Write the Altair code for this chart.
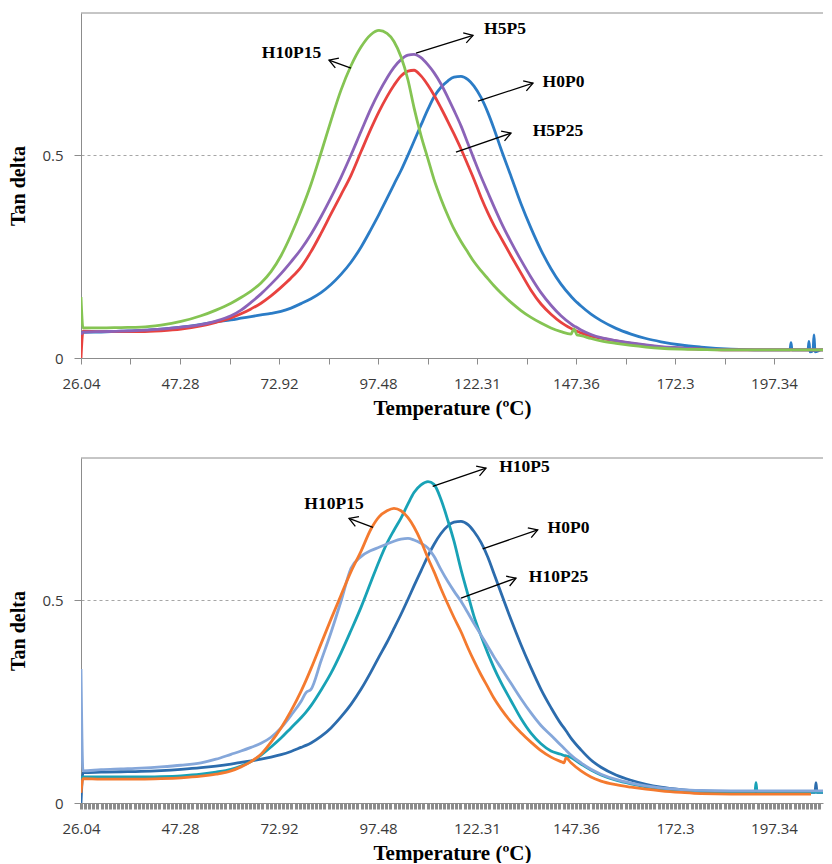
import json
import math
import altair as alt
import pandas as pd

# ---------------- axis categories ----------------
TICK_LABELS = [26.04, 47.28, 72.92, 97.48, 122.31, 147.36, 172.3, 197.34]
Y_MAX = 0.85
Y_TICKS = [0, 0.5]

# ---------------- top panel (temperature samples, then Tan delta per series) ----------------
TOP_TEMPS = [26.04, 26.47, 30.33, 34.62, 38.91, 43.20, 47.54, 52.72, 56.60, 60.49,
             63.08, 65.67, 68.26, 70.85, 73.42, 75.90, 78.38, 80.86, 83.34, 85.82,
             88.30, 90.78, 93.26, 95.74, 97.73, 99.74, 101.49, 103.25, 105.00, 106.51,
             108.27, 110.02, 111.52, 113.28, 115.04, 116.54, 118.30, 120.05, 121.56, 123.32,
             125.09, 126.61, 128.38, 130.91, 133.44, 135.97, 138.50, 141.03, 143.56, 146.09,
             146.85, 147.61, 148.62, 151.14, 153.66, 157.44, 161.22, 164.99, 168.77, 173.82,
             178.88, 186.46, 194.05, 201.39, 201.64, 201.89, 205.94, 206.19, 206.44, 207.20,
             207.46, 207.71, 209.23, 212.26]

TOP_H0P0 = [0.062, 0.063, 0.064, 0.066, 0.068, 0.071, 0.076, 0.083, 0.089, 0.094,
            0.098, 0.102, 0.106, 0.110, 0.115, 0.123, 0.134, 0.146, 0.161, 0.181,
            0.206, 0.236, 0.273, 0.317, 0.354, 0.393, 0.428, 0.462, 0.500, 0.534,
            0.574, 0.613, 0.643, 0.667, 0.683, 0.692, 0.694, 0.686, 0.670, 0.642,
            0.604, 0.565, 0.515, 0.448, 0.380, 0.320, 0.266, 0.220, 0.182, 0.152,
            0.144, 0.137, 0.128, 0.108, 0.092, 0.073, 0.059, 0.048, 0.040, 0.032,
            0.027, 0.022, 0.020, 0.020, 0.038, 0.020, 0.020, 0.041, 0.015, 0.018,
            0.057, 0.015, 0.020, 0.020]

TOP_H5P25 = [0.0, 0.066, 0.065, 0.065, 0.065, 0.067, 0.071, 0.079, 0.088, 0.099,
             0.109, 0.121, 0.135, 0.153, 0.174, 0.197, 0.224, 0.262, 0.307, 0.355,
             0.402, 0.450, 0.508, 0.565, 0.607, 0.644, 0.672, 0.695, 0.707, 0.709,
             0.695, 0.672, 0.648, 0.616, 0.582, 0.552, 0.515, 0.475, 0.440, 0.396,
             0.357, 0.327, 0.296, 0.252, 0.209, 0.167, 0.133, 0.108, 0.088, 0.073,
             0.069, 0.066, 0.062, 0.054, 0.049, 0.042, 0.036, 0.031, 0.027, 0.024,
             0.022, 0.020, 0.020, 0.020, 0.020, 0.020, 0.020, 0.020, 0.020, 0.020,
             0.020, 0.020, 0.020, 0.020]

TOP_H5P5 = [0.058, 0.064, 0.065, 0.066, 0.068, 0.071, 0.076, 0.082, 0.091, 0.104,
            0.118, 0.137, 0.158, 0.182, 0.208, 0.237, 0.268, 0.305, 0.348, 0.395,
            0.445, 0.500, 0.558, 0.615, 0.655, 0.690, 0.716, 0.735, 0.746, 0.748,
            0.740, 0.722, 0.703, 0.675, 0.641, 0.610, 0.572, 0.528, 0.490, 0.447,
            0.407, 0.373, 0.335, 0.286, 0.241, 0.199, 0.161, 0.130, 0.104, 0.084,
            0.079, 0.075, 0.069, 0.058, 0.050, 0.043, 0.037, 0.032, 0.028, 0.025,
            0.022, 0.020, 0.020, 0.020, 0.020, 0.020, 0.020, 0.020, 0.020, 0.020,
            0.020, 0.020, 0.020, 0.020]

TOP_H10P15 = [0.15, 0.074, 0.074, 0.075, 0.076, 0.081, 0.090, 0.104, 0.118, 0.135,
              0.149, 0.165, 0.185, 0.213, 0.252, 0.303, 0.362, 0.428, 0.505, 0.585,
              0.660, 0.720, 0.766, 0.797, 0.807, 0.800, 0.780, 0.742, 0.685, 0.617,
              0.548, 0.490, 0.440, 0.392, 0.350, 0.318, 0.287, 0.260, 0.237, 0.215,
              0.195, 0.178, 0.160, 0.137, 0.117, 0.100, 0.086, 0.074, 0.065, 0.059,
              0.072, 0.057, 0.055, 0.048, 0.042, 0.036, 0.031, 0.027, 0.024, 0.022,
              0.021, 0.020, 0.020, 0.020, 0.020, 0.020, 0.020, 0.020, 0.020, 0.020,
              0.020, 0.020, 0.020, 0.020]

# ---------------- bottom panel ----------------
BOT_TEMPS = [26.04, 26.47, 30.33, 34.62, 38.91, 43.20, 47.54, 52.72, 56.60, 60.49,
             63.08, 65.67, 68.26, 70.85, 73.42, 75.90, 78.38, 79.62, 80.86, 83.34,
             85.82, 88.30, 90.78, 93.26, 95.74, 97.73, 99.74, 101.49, 103.25, 105.00,
             106.51, 108.27, 110.02, 111.52, 113.28, 115.04, 116.54, 118.30, 120.05, 121.56,
             123.32, 125.09, 126.61, 128.38, 130.91, 133.44, 135.97, 138.50, 141.03, 143.56,
             144.32, 144.83, 146.09, 148.62, 151.14, 153.66, 157.44, 161.22, 164.99, 168.77,
             173.82, 178.88, 186.46, 192.54, 192.79, 193.04, 199.11, 206.70, 207.71, 207.96,
             208.21, 209.23, 212.26]

BOT_H0P0 = [0.0, 0.075, 0.076, 0.077, 0.078, 0.080, 0.083, 0.087, 0.091, 0.096,
            0.100, 0.104, 0.108, 0.113, 0.119, 0.127, 0.137, 0.142, 0.148, 0.164,
            0.185, 0.212, 0.243, 0.280, 0.323, 0.360, 0.396, 0.430, 0.465, 0.502,
            0.535, 0.572, 0.609, 0.637, 0.664, 0.683, 0.692, 0.694, 0.686, 0.669,
            0.642, 0.605, 0.565, 0.518, 0.452, 0.390, 0.333, 0.280, 0.235, 0.195,
            0.185, 0.178, 0.160, 0.131, 0.106, 0.088, 0.069, 0.056, 0.046, 0.039,
            0.033, 0.029, 0.027, 0.026, 0.026, 0.026, 0.026, 0.026, 0.026, 0.050,
            0.026, 0.026, 0.026]

BOT_H10P5 = [0.060, 0.064, 0.064, 0.064, 0.064, 0.065, 0.067, 0.071, 0.076, 0.083,
             0.091, 0.102, 0.118, 0.138, 0.160, 0.185, 0.210, 0.224, 0.240, 0.278,
             0.320, 0.370, 0.425, 0.482, 0.545, 0.595, 0.640, 0.672, 0.702, 0.737,
             0.765, 0.784, 0.792, 0.785, 0.748, 0.695, 0.645, 0.575, 0.513, 0.460,
             0.412, 0.368, 0.333, 0.297, 0.252, 0.208, 0.172, 0.146, 0.128, 0.120,
             0.117, 0.116, 0.112, 0.096, 0.081, 0.069, 0.056, 0.047, 0.040, 0.035,
             0.031, 0.029, 0.028, 0.028, 0.050, 0.028, 0.027, 0.027, 0.027, 0.027,
             0.027, 0.027, 0.027]

BOT_H10P25 = [0.33, 0.079, 0.082, 0.084, 0.086, 0.089, 0.093, 0.099, 0.108, 0.120,
              0.128, 0.137, 0.147, 0.162, 0.185, 0.216, 0.250, 0.272, 0.280, 0.350,
              0.420, 0.497, 0.578, 0.607, 0.622, 0.630, 0.638, 0.645, 0.650, 0.652,
              0.648, 0.640, 0.628, 0.608, 0.575, 0.545, 0.522, 0.497, 0.468, 0.442,
              0.414, 0.385, 0.360, 0.333, 0.295, 0.257, 0.222, 0.191, 0.167, 0.142,
              0.135, 0.130, 0.118, 0.099, 0.083, 0.071, 0.058, 0.049, 0.042, 0.037,
              0.033, 0.031, 0.030, 0.030, 0.030, 0.030, 0.030, 0.030, 0.030, 0.030,
              0.030, 0.030, 0.030]

BOT_H10P15 = [0.025, 0.060, 0.059, 0.059, 0.059, 0.060, 0.062, 0.066, 0.071, 0.079,
              0.089, 0.102, 0.120, 0.150, 0.185, 0.227, 0.275, 0.302, 0.331, 0.392,
              0.453, 0.512, 0.570, 0.620, 0.675, 0.705, 0.720, 0.726, 0.720, 0.703,
              0.680, 0.645, 0.603, 0.570, 0.528, 0.489, 0.457, 0.422, 0.382, 0.350,
              0.316, 0.285, 0.258, 0.232, 0.200, 0.173, 0.150, 0.129, 0.113, 0.102,
              0.099, 0.111, 0.099, 0.079, 0.064, 0.054, 0.045, 0.039, 0.034, 0.030,
              0.026, 0.023, 0.022, 0.022, 0.022, 0.022, 0.022, 0.022, None, None,
              None, None, None]

# ---------------- annotations ----------------
TOP_ANN_LABELS = ["H10P15", "H5P5", "H0P0", "H5P25"]
TOP_ANN_TX = [76.02, 129.39, 144.20, 142.81]
TOP_ANN_TY = [0.751, 0.81, 0.681, 0.559]
TOP_ARROW_X1 = [90.78, 107.01, 122.56, 117.04]
TOP_ARROW_Y1 = [0.714, 0.751, 0.633, 0.507]
TOP_ARROW_X2 = [85.32, 121.31, 136.48, 130.91]
TOP_ARROW_Y2 = [0.734, 0.795, 0.677, 0.554]

BOT_ANN_LABELS = ["H10P15", "H10P5", "H0P0", "H10P25"]
BOT_ANN_TX = [86.56, 134.33, 145.46, 142.93]
BOT_ANN_TY = [0.737, 0.828, 0.678, 0.557]
BOT_ARROW_X1 = [96.24, 111.20, 123.75, 118.30]
BOT_ARROW_Y1 = [0.679, 0.78, 0.626, 0.505]
BOT_ARROW_X2 = [90.29, 124.59, 137.67, 132.18]
BOT_ARROW_Y2 = [0.701, 0.825, 0.673, 0.554]

# ---------------- layout / style ----------------
W, H = 742, 345
STEP = 99
X_END = TICK_LABELS[-1] + (W - STEP * (len(TICK_LABELS) - 1)) / STEP * (TICK_LABELS[-1] - TICK_LABELS[-2])
XDOM = TICK_LABELS + [X_END]
XRANGE = [i * STEP for i in range(len(TICK_LABELS))] + [W]
AXIS_GRAY = "#8c8c8c"
LABEL_COLOR = "#3a3a3a"
SERIF = "Liberation Serif"
SANS = "Open Sans"

mids = [(a + b) / 2 for a, b in zip(TICK_LABELS[:-1], TICK_LABELS[1:])]
mids.append(TICK_LABELS[-1] + (TICK_LABELS[-1] - TICK_LABELS[-2]) / 2)
TOP_TICKS = sorted(TICK_LABELS + [m for m in mids if m <= X_END])

DENSE_TICKS = []
for a, b in zip(TICK_LABELS[:-1], TICK_LABELS[1:]):
    for k in range(24):
        DENSE_TICKS.append(a + k * (b - a) / 24)
_st = (TICK_LABELS[-1] - TICK_LABELS[-2]) / 24
_t = TICK_LABELS[-1]
while _t <= X_END:
    DENSE_TICKS.append(_t)
    _t += _st

LABEL_EXPR = f"indexof({json.dumps(TICK_LABELS)}, datum.value) >= 0 ? datum.value + '' : ''"


def to_px(t):
    for i in range(len(XDOM) - 1):
        if t <= XDOM[i + 1] or i == len(XDOM) - 2:
            return XRANGE[i] + (t - XDOM[i]) / (XDOM[i + 1] - XDOM[i]) * (XRANGE[i + 1] - XRANGE[i])


def head_angle(x1, y1, x2, y2):
    dx = to_px(x2) - to_px(x1)
    dy = -(y2 - y1) * H / Y_MAX
    return math.degrees(math.atan2(dy, dx)) % 360


xscale = alt.Scale(domain=XDOM, range=XRANGE, nice=False, zero=False)
yscale = alt.Scale(domain=[0, Y_MAX], nice=False, zero=False)


def x_axis(values, tick_width):
    return alt.Axis(values=values, labelExpr=LABEL_EXPR, title="Temperature (ºC)",
                    titleFont=SERIF, titleFontSize=21, titleFontWeight="bold", titleColor="black",
                    titlePadding=6, labelFont=SANS, labelFontSize=15, labelColor=LABEL_COLOR,
                    labelPadding=12, labelFlush=False, labelOverlap=False, tickSize=6,
                    tickWidth=tick_width, tickColor=AXIS_GRAY, domainColor=AXIS_GRAY, grid=False)


yaxis = alt.Axis(values=Y_TICKS, format="~g", title="Tan delta", titleFont=SERIF, titleFontSize=20,
                 titleFontWeight="bold", titleColor="black", titlePadding=13, labelFont=SANS,
                 labelFontSize=15, labelColor=LABEL_COLOR, labelPadding=11, labelFlush=False,
                 tickSize=7, tickColor=AXIS_GRAY, domainColor=AXIS_GRAY, grid=True,
                 gridColor="#a6a6a6", gridDash=[3, 3], gridWidth=1)


def panel(temps, series, labels, tx, ty, x1, y1, x2, y2, xaxis):
    def X(f):
        return alt.X(f"{f}:Q", scale=xscale, axis=xaxis)

    def Y(f):
        return alt.Y(f"{f}:Q", scale=yscale, axis=yaxis)

    layers = [alt.Chart(pd.DataFrame({"tan": [Y_MAX]})).mark_rule(
        color=AXIS_GRAY, strokeWidth=1).encode(y=Y("tan"))]
    for values, color in series:
        df = pd.DataFrame({"temp": temps, "tan": values})
        layers.append(alt.Chart(df).mark_line(color=color, strokeWidth=2.8, interpolate="monotone",
                                              clip=True).encode(x=X("temp"), y=Y("tan")))
    ann = pd.DataFrame({"label": labels, "tx": tx, "ty": ty, "x1": x1, "y1": y1, "x2": x2, "y2": y2,
                        "angle": [head_angle(a, b, c, d) for a, b, c, d in zip(x1, y1, x2, y2)]})
    layers.append(alt.Chart(ann).mark_rule(color="black", strokeWidth=1.3).encode(
        x=X("x1"), y=Y("y1"), x2="x2:Q", y2="y2:Q"))
    layers.append(alt.Chart(ann).mark_point(shape="M-1,-0.6L0,0L-1,0.6", filled=False, size=300,
                                            strokeWidth=1.3, color="black", opacity=1).encode(
        x=X("x2"), y=Y("y2"), angle=alt.Angle("angle:Q", scale=None)))
    layers.append(alt.Chart(ann).mark_text(font=SERIF, fontWeight="bold", fontSize=17.5, color="black",
                                           align="center", baseline="middle").encode(
        x=X("tx"), y=Y("ty"), text="label:N"))
    return alt.layer(*layers).properties(width=W, height=H)


top = panel(TOP_TEMPS,
            [(TOP_H0P0, "#2b7cc6"), (TOP_H5P25, "#e8423f"), (TOP_H5P5, "#8b63b8"),
             (TOP_H10P15, "#85c453")],
            TOP_ANN_LABELS, TOP_ANN_TX, TOP_ANN_TY, TOP_ARROW_X1, TOP_ARROW_Y1, TOP_ARROW_X2,
            TOP_ARROW_Y2, x_axis(TOP_TICKS, 1))

bottom = panel(BOT_TEMPS,
               [(BOT_H0P0, "#2c6cad"), (BOT_H10P5, "#18a2b6"), (BOT_H10P25, "#85a7da"),
                (BOT_H10P15, "#f47a2f")],
               BOT_ANN_LABELS, BOT_ANN_TX, BOT_ANN_TY, BOT_ARROW_X1, BOT_ARROW_Y1, BOT_ARROW_X2,
               BOT_ARROW_Y2, x_axis(DENSE_TICKS, 3))

chart = alt.vconcat(top, bottom, spacing=39).resolve_scale(x="independent", y="independent").properties(
    padding={"top": 4, "left": 0, "right": 0, "bottom": 0},
    background="white",
).configure_view(stroke=None)

chart.save("out.html", embed_options={"renderer": "svg", "actions": False})
